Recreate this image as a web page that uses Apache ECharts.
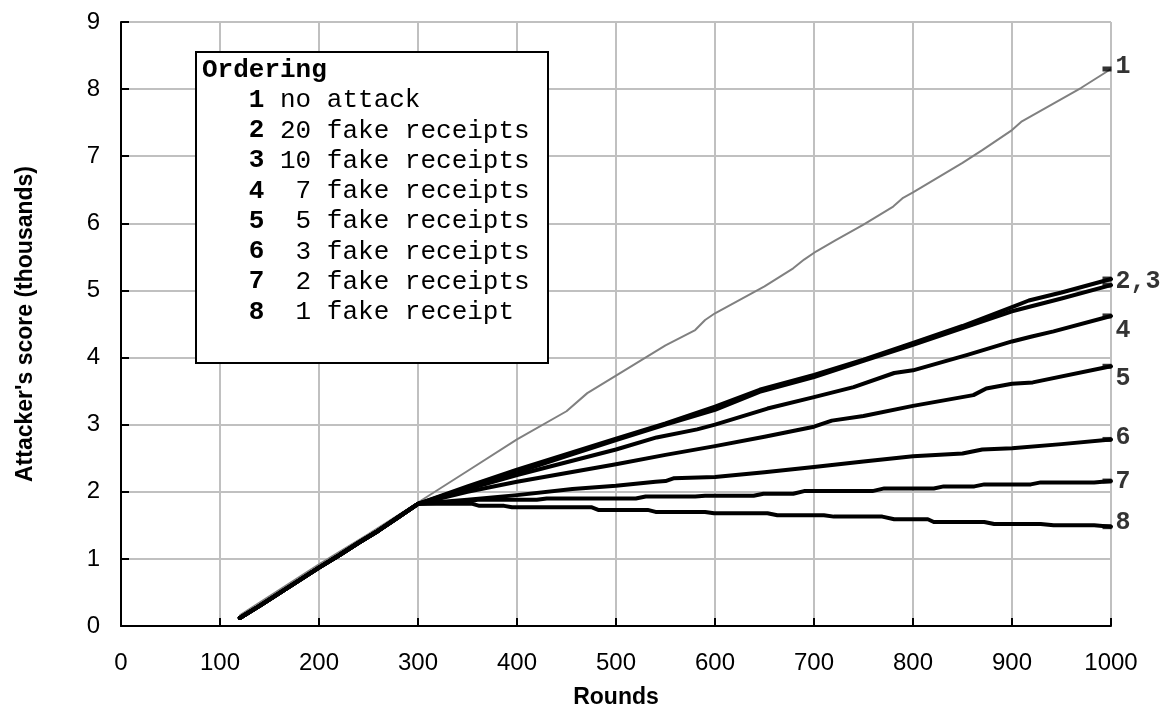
<!DOCTYPE html>
<html>
<head>
<meta charset="utf-8">
<script src="https://cdn.jsdelivr.net/npm/echarts@6/dist/echarts.min.js"></script>
<style>
	html, body { margin: 0; padding: 0; background: #fff; }
	#chart { width: 1168px; height: 724px; }
</style>
</head>
<body>
<div id="chart"></div>
<script>
// shared start (all attack runs follow the same path until round 300)
var warmup = [[120,0.12],[140,0.3],[160,0.49],[180,0.68],[200,0.87],[220,1.05],[240,1.24],[260,1.42],[280,1.62],[300,1.82]];

var noAttack = [[120,0.16],[140,0.35],[160,0.54],[200,0.92],[250,1.37],[300,1.84],[350,2.31],[400,2.78],[450,3.2],[471,3.47],
	[500,3.73],[550,4.18],[580,4.41],[590,4.56],[600,4.66],[650,5.06],[679,5.33],[690,5.46],[702,5.58],[722,5.75],
	[750,5.98],[780,6.25],[790,6.38],[800,6.46],[850,6.9],[870,7.09],[900,7.39],[910,7.52],[970,8.02],[1000,8.3]];

var fake20 = [[350,2.08],[400,2.33],[450,2.56],[500,2.79],[550,3.02],[600,3.27],[645,3.52],[700,3.74],[750,3.97],
	[800,4.22],[850,4.47],[900,4.75],[917,4.85],[950,4.97],[1000,5.17]];
var fake10 = [[350,2.06],[400,2.29],[450,2.53],[500,2.77],[550,3.0],[600,3.22],[645,3.49],[700,3.71],[750,3.95],
	[800,4.19],[850,4.44],[900,4.69],[950,4.88],[1000,5.08]];
var fake7 = [[350,2.04],[400,2.25],[450,2.44],[500,2.63],[541,2.81],[582,2.93],[600,3.0],[653,3.24],[700,3.41],
	[740,3.56],[781,3.77],[800,3.81],[855,4.04],[900,4.24],[919,4.31],[942,4.39],[1000,4.62]];
var fake5 = [[350,2.0],[400,2.15],[450,2.28],[500,2.41],[550,2.55],[600,2.68],[650,2.82],[700,2.97],[718,3.06],
	[750,3.13],[800,3.28],[861,3.44],[874,3.54],[900,3.61],[921,3.63],[1000,3.87]];
var fake3 = [[350,1.88],[400,1.95],[456,2.04],[500,2.09],[540,2.15],[550,2.16],[558,2.2],[600,2.22],[650,2.29],
	[700,2.37],[750,2.45],[800,2.53],[850,2.57],[870,2.63],[900,2.65],[950,2.71],[1000,2.78]];
var fake2 = [[350,1.85],[360,1.88],[420,1.88],[430,1.9],[520,1.9],[530,1.93],[580,1.93],[590,1.94],[639,1.94],
	[649,1.97],[679,1.97],[690,2.01],[759,2.01],[771,2.05],[821,2.05],[831,2.08],[862,2.08],[872,2.11],[919,2.11],
	[929,2.14],[983,2.14],[1000,2.16]];
var fake1 = [[355,1.82],[362,1.79],[387,1.79],[395,1.77],[475,1.77],[482,1.73],[532,1.73],[540,1.7],[590,1.7],
	[599,1.68],[653,1.68],[663,1.65],[710,1.65],[720,1.63],[769,1.63],[781,1.59],[815,1.59],[821,1.55],[872,1.55],
	[882,1.52],[929,1.52],[942,1.5],[983,1.5],[1000,1.48]];

var orderTitle = 'Ordering';
var orderIds = ['1', '2', '3', '4', '5', '6', '7', '8'];
var orderDescs = ['no attack', '20 fake receipts', '10 fake receipts', ' 7 fake receipts', ' 5 fake receipts',
	' 3 fake receipts', ' 2 fake receipts', ' 1 fake receipt'];
var endLabels = ['1', '2,3', '', '4', '5', '6', '7', '8'];
var xTicks = { min: 0, max: 1000, interval: 100 };
var yTicks = { min: 0, max: 9, interval: 1 };

var allRuns = [noAttack, warmup.concat(fake20), warmup.concat(fake10), warmup.concat(fake7),
	warmup.concat(fake5), warmup.concat(fake3), warmup.concat(fake2), warmup.concat(fake1)];

var mono = "'Liberation Mono', 'DejaVu Sans Mono', monospace",
	sans = "'Liberation Sans', Arial, sans-serif";

var chart = echarts.init(document.getElementById('chart'), null, { renderer: 'canvas' }),
	series = [],
	endPoints = [],
	// label nudges so 4 and 5 sit below their line ends
	labelOffsets = [[0, -2], [0, 3], [0, 0], [0, 15], [0, 12], [0, -2], [0, 1], [0, -4]],
	i, run, last;

for (i = 0; i < allRuns.length; i++)
{
	run = allRuns[i];
	series.push({
		type: 'line',
		name: orderIds[i],
		data: run,
		showSymbol: false,
		silent: true,
		z: i == 0 ? 1 : 2,
		lineStyle: i == 0 ? { color: '#808080', width: 2 } : { color: '#000', width: 4, cap: 'round', join: 'round' }
	});

	last = run[run.length - 1];
	endPoints.push({
		value: last,
		label: {
			show: endLabels[i] != '',
			formatter: endLabels[i],
			offset: labelOffsets[i]
		}
	});
}

series.push({
	type: 'scatter',
	data: endPoints,
	symbol: 'rect',
	symbolSize: [9, 5],
	symbolOffset: [-4, 0],
	clip: false,
	silent: true,
	z: 5,
	itemStyle: { color: '#000' },
	label: {
		position: 'right',
		distance: 4,
		color: '#000',
		fontFamily: mono,
		fontWeight: 'bold',
		fontSize: 25
	}
});

var legendLines = ['{h|' + orderTitle + '}'];
for (i = 0; i < orderIds.length; i++)
	legendLines.push('   {b|' + orderIds[i] + '} ' + orderDescs[i]);

function axisCommon(name, gap) {
	return {
		type: 'value',
		name: name,
		nameLocation: 'middle',
		nameGap: gap,
		nameTextStyle: { fontFamily: sans, fontWeight: 'bold', fontSize: 23, color: '#000' },
		axisLine: { show: true, onZero: false, lineStyle: { color: '#000', width: 2 } },
		axisTick: { show: true, inside: true, length: 8, lineStyle: { color: '#000', width: 2 } },
		axisLabel: { fontFamily: sans, fontSize: 24, color: '#000', formatter: function (v) { return String(v); } },
		splitLine: { show: true, lineStyle: { color: '#c0c0c0', width: 2 } }
	};
}

var xAxis = axisCommon('Rounds', 60);
xAxis.min = xTicks.min;
xAxis.max = xTicks.max;
xAxis.interval = xTicks.interval;
xAxis.axisLabel.margin = 25;

var yAxis = axisCommon("Attacker's score (thousands)", 84);
yAxis.min = yTicks.min;
yAxis.max = yTicks.max;
yAxis.interval = yTicks.interval;
yAxis.axisLabel.margin = 21;

chart.setOption({
	animation: false,
	backgroundColor: '#fff',
	grid: { left: 121, right: 57, top: 22, bottom: 98, containLabel: false },
	xAxis: xAxis,
	yAxis: yAxis,
	series: series,
	graphic: [{
		type: 'rect',
		z: 100,
		shape: { x: 196, y: 52, width: 352, height: 311 },
		style: { fill: '#fff', stroke: '#000', lineWidth: 2 }
	}, {
		type: 'text',
		z: 101,
		x: 202,
		y: 55,
		style: {
			text: legendLines.join('\n'),
			fontFamily: mono,
			fontSize: 26,
			fontWeight: 'normal',
			lineHeight: 30.25,
			fill: '#000',
			verticalAlign: 'top',
			rich: {
				h: { fontFamily: mono, fontSize: 26, fontWeight: 'bold', lineHeight: 30.25, fill: '#000' },
				b: { fontFamily: mono, fontSize: 26, fontWeight: 'bold', lineHeight: 30.25, fill: '#000' }
			}
		}
	}]
});
</script>
</body>
</html>
